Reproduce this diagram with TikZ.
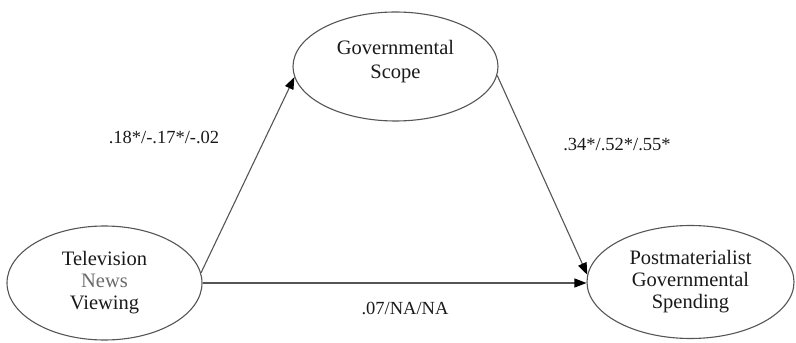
\documentclass[tikz,border=0pt]{standalone}
\usepackage{fontspec}
\setmainfont{Liberation Serif}
\usetikzlibrary{arrows.meta,shapes.geometric}
\definecolor{linegray}{HTML}{555555}
\definecolor{textdark}{HTML}{1A1A1A}
\definecolor{textgray}{HTML}{6A6A6A}
\begin{document}
\begin{tikzpicture}[x=1pt,y=1pt,
  var/.style={ellipse,draw=linegray,line width=1.1pt,inner sep=0pt,align=center,
    text=textdark,font=\fontsize{20.5}{22}\selectfont},
  vtext/.style={inner sep=0pt,align=center,text=textdark,font=\fontsize{20.5}{23.5}\selectfont},
  path/.style={draw=linegray,line width=1.1pt,-{Triangle[length=12pt,width=9pt,color=black]}},
  coef/.style={text=textdark,font=\fontsize{18.5}{20}\selectfont,inner sep=0pt}]
\useasboundingbox (0,0) rectangle (796,343);
\node[var,minimum width=195pt,minimum height=114pt] (tv) at (104.5,60)
  {Television\\\textcolor{textgray}{News}\\Viewing};
\node[var,minimum width=205pt,minimum height=109pt] (gs) at (395.5,276.5) {};
\node[vtext] (gst) at ([yshift=5pt]gs.center) {Governmental\\Scope};
\node[var,minimum width=207pt,minimum height=113pt] (sp) at (690.5,61)
  {Postmaterialist\\Governmental\\Spending};
\draw[path] (tv.6) -- (gs.186);
\draw[path] (gs.-5) -- (sp.176);
\draw[path] (tv.east) -- (sp.west |- tv.east);
\node[coef] (c1) at (164,206) {.18*/-.17*/-.02};
\node[coef] (c2) at (617,198) {.34*/.52*/.55*};
\node[coef] (c3) at (405,35) {.07/NA/NA};
\end{tikzpicture}
\end{document}
